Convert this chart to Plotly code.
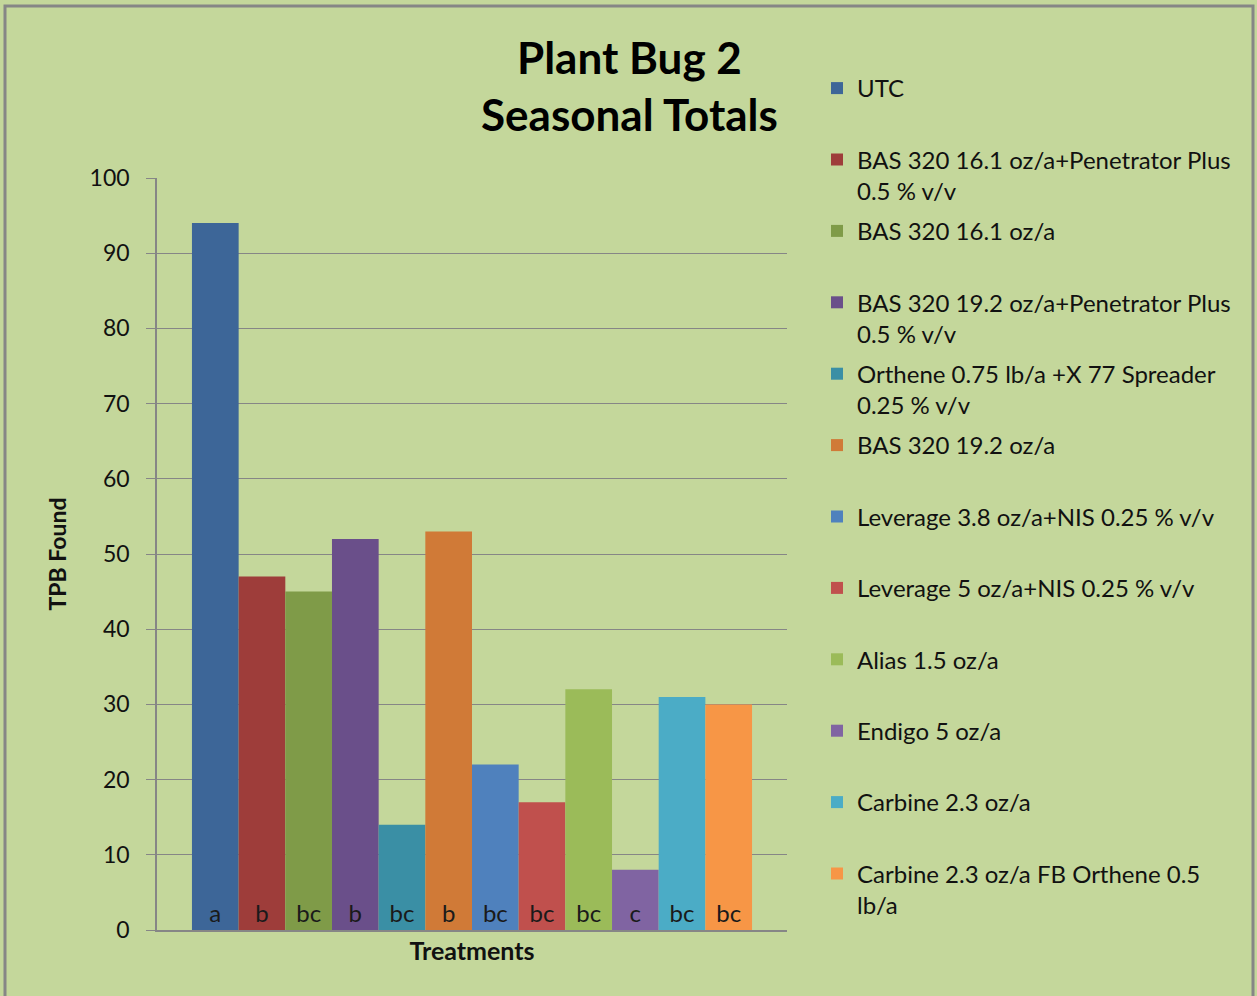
import plotly.graph_objects as go

treatments = [
    "UTC",
    "BAS 320 16.1 oz/a+Penetrator Plus<br>0.5 % v/v",
    "BAS 320 16.1 oz/a",
    "BAS 320 19.2 oz/a+Penetrator Plus<br>0.5 % v/v",
    "Orthene 0.75 lb/a +X 77 Spreader<br>0.25 % v/v",
    "BAS 320 19.2 oz/a",
    "Leverage 3.8 oz/a+NIS 0.25 % v/v",
    "Leverage 5 oz/a+NIS 0.25 % v/v",
    "Alias 1.5 oz/a",
    "Endigo 5 oz/a",
    "Carbine 2.3 oz/a",
    "Carbine 2.3 oz/a FB Orthene 0.5<br>lb/a",
]
tpb_found = [94, 47, 45, 52, 14, 53, 22, 17, 32, 8, 31, 30]
letters = ["a", "b", "bc", "b", "bc", "b", "bc", "bc", "bc", "c", "bc", "bc"]
colors = ["#3D6698", "#9E3D3A", "#7F9B48", "#6A4F8A", "#3A8FA5", "#D07A37",
          "#4F81BD", "#C0504D", "#9BBB59", "#8064A2", "#4BACC6", "#F79646"]
y_ticks = [0, 10, 20, 30, 40, 50, 60, 70, 80, 90, 100]

FONT = "Lato, 'Open Sans', sans-serif"
BG = "#C4D79B"

# plot area in page pixels
PL, PR, PT, PB = 157, 787, 178, 930
PW, PH = PR - PL, PB - PT


def px(x):
    return (x - PL) / PW


def py(y):
    return (PB - y) / PH


fig = go.Figure()
for i, name in enumerate(treatments):
    label = name if "<br>" in name else name + "<br> "
    fig.add_trace(go.Bar(
        x=["Treatments"], y=[tpb_found[i]], name=label,
        marker=dict(color=colors[i], line=dict(width=0)),
        text=[letters[i]], textposition="inside", insidetextanchor="start",
        textangle=0, constraintext="none",
        textfont=dict(family=FONT, size=24, color="#1a1a1a"),
        legendgroup=str(i), showlegend=True,
    ))

fig.update_layout(
    width=1257, height=996,
    paper_bgcolor=BG, plot_bgcolor=BG,
    margin=dict(l=PL, r=1257 - PR, t=PT, b=996 - PB),
    barmode="group", bargap=0.111, bargroupgap=0,
    font=dict(family=FONT, size=22, color="#111"),
    showlegend=True,
    legend=dict(
        x=px(817), y=py(66), xanchor="left", yanchor="top",
        bgcolor="rgba(0,0,0,0)", font=dict(family=FONT, size=24, color="#111"),
        valign="top", tracegroupgap=6, itemwidth=30, maxheight=960,
    ),
    xaxis=dict(
        showticklabels=False, ticks="", showline=True, linecolor="#868686", linewidth=1.5,
        title=dict(text="<b>Treatments</b>", font=dict(family=FONT, size=25, color="#111"), standoff=12),
        showgrid=False, zeroline=False,
    ),
    yaxis=dict(
        range=[0, 100], tickvals=y_ticks, ticks="outside", ticklen=9, tickcolor="#868686",
        showline=True, linecolor="#868686", linewidth=1.5,
        showgrid=True, gridcolor="#868686", gridwidth=1, zeroline=False,
        tickfont=dict(family=FONT, size=23, color="#111"), ticklabelstandoff=12,
        title=dict(text="<b>TPB Found</b>", font=dict(family=FONT, size=23, color="#111"), standoff=17),
    ),
)

fig.add_annotation(
    text="<b>Plant Bug 2<br>Seasonal Totals</b>", xref="paper", yref="paper",
    x=px(629), y=py(29), xanchor="center", yanchor="top",
    showarrow=False, font=dict(family=FONT, size=44, color="#000"), align="center",
)

fig.add_shape(
    type="rect", xref="paper", yref="paper",
    x0=px(5), x1=px(1253), y0=py(1010), y1=py(6),
    line=dict(color="#868686", width=3), fillcolor="rgba(0,0,0,0)", layer="below",
)

fig.write_html("out.html", config={"displayModeBar": False},
               post_script="document.body.style.margin='0';")
